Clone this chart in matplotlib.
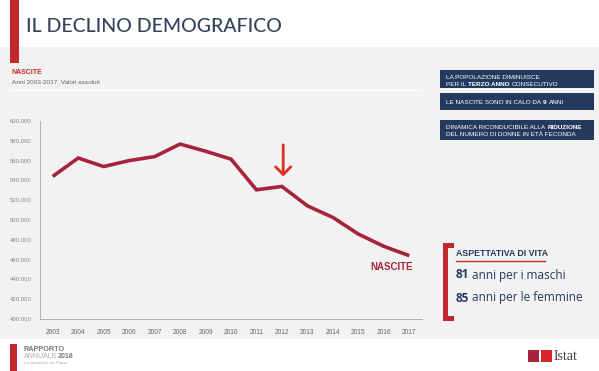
import matplotlib
matplotlib.use("Agg")
import matplotlib.pyplot as plt
from matplotlib.patches import Rectangle
from matplotlib.lines import Line2D

years = [2003, 2004, 2005, 2006, 2007, 2008, 2009, 2010, 2011, 2012, 2013, 2014, 2015, 2016, 2017]
births = [544000, 562600, 554000, 560000, 564000, 576700, 569500, 561500, 530500, 533900,
          514300, 502600, 485800, 473400, 464000]
yticks = list(range(400000, 600001, 20000))
ytick_labels = [f"{v:,}".replace(",", ".") for v in yticks]

W, H = 599, 371
fig = plt.figure(figsize=(W / 100, H / 100), dpi=100)
fig.patch.set_facecolor("white")


def fx(x):
    return x / W


def fy(y):
    return 1 - y / H


def rect(x0, y0, x1, y1, color, z=0):
    fig.patches.append(Rectangle((fx(x0), fy(y1)), fx(x1) - fx(x0), fy(y0) - fy(y1),
                                 transform=fig.transFigure, facecolor=color,
                                 edgecolor="none", zorder=z))


def txt(x, y, s, **kw):
    kw.setdefault("family", "Open Sans")
    return fig.text(fx(x), fy(y), s, **kw)


# backgrounds
rect(0, 47, W, 339, "#f2f2f2", -5)
rect(10, 0, 19, 63, "#c1272d", 1)
txt(26, 26, "IL DECLINO DEMOGRAFICO", fontsize=14, color="#34425a", va="center", family="Lato",
    weight="medium")
txt(12, 73, "NASCITE", fontsize=5, color="#c1272d", weight="bold", va="center", family="Liberation Sans")
txt(12, 82, "Anni 2003-2017. Valori assoluti", fontsize=4.6, color="#666666", va="center", family="Liberation Sans")
fig.lines.append(Line2D([fx(10), fx(420)], [fy(90), fy(90)], transform=fig.transFigure,
                        color="white", lw=0.8, zorder=-4))

# chart axes
ax = fig.add_axes([fx(40), fy(319), fx(422) - fx(40), fy(121) - fy(319)])
ax.set_zorder(5)
ax.set_facecolor("none")
ax.plot(years, births, color="#a6243b", lw=2.6, solid_capstyle="butt", solid_joinstyle="miter")
ax.set_xlim(2002.5, 2017.5)
ax.set_ylim(400000, 600000)
ax.set_xticks(years)
ax.set_xticklabels([str(y) for y in years], fontsize=4.8, color="#666666", family="Liberation Sans")
ax.set_yticks(yticks)
ax.set_yticklabels(ytick_labels, fontsize=4.3, color="#888888", family="Liberation Sans")
ax.tick_params(length=0, pad=7)
ax.tick_params(axis="y", pad=6)
for s in ["top", "right"]:
    ax.spines[s].set_visible(False)
for s in ["left", "bottom"]:
    ax.spines[s].set_color("#b0b0b0")
    ax.spines[s].set_linewidth(0.7)

ax.annotate("", xy=(2012.05, 544000), xytext=(2012.05, 576000),
            arrowprops=dict(arrowstyle="->,head_length=0.55,head_width=0.55", color="#e03020",
                            lw=2.0, shrinkA=0, shrinkB=0))
ax.text(2016.3, 464000 - 11500, "NASCITE", fontsize=7, color="#a6243b", weight="bold",
        ha="center", va="center", family="Liberation Sans")

# right boxes
navy = "#233a5e"
boxes = [(70, 88), (93, 110), (120, 140)]
for y0, y1 in boxes:
    rect(440, y0, 594, y1, navy, 2)


def runs(x, y, parts, size=4.6):
    prev = None
    for s, bold in parts:
        kw = dict(fontsize=size, color="white", weight="bold" if bold else "normal",
                  family="Liberation Sans", zorder=3)
        if prev is None:
            prev = fig.text(fx(x), fy(y), s, va="baseline", **kw)
        else:
            prev = ax.annotate(s, xy=(1, 0), xycoords=prev, xytext=(1.5, 0),
                               textcoords="offset points", va="bottom", ha="left",
                               annotation_clip=False, **kw)
    return prev


runs(446, 79, [("LA POPOLAZIONE DIMINUISCE", False)])
runs(446, 85.5, [("PER IL", False), ("TERZO ANNO", True), ("CONSECUTIVO", False)])
runs(446, 104, [("LE NASCITE SONO IN CALO DA", False), ("9", True), ("ANNI", False)])
runs(446, 129, [("DINAMICA RICONDUCIBILE ALLA", False), ("RIDUZIONE", True)])
runs(446, 136, [("DEL NUMERO DI DONNE IN ETÀ FECONDA", False)])

# aspettativa di vita bracket
red = "#c1272d"
rect(443, 243, 448, 321, red, 2)
rect(443, 243, 454, 248, red, 2)
rect(443, 316, 454, 321, red, 2)
txt(456, 254, "ASPETTATIVA DI VITA", fontsize=6.3, color=navy, weight="bold", va="center",
    family="Liberation Sans")
fig.lines.append(Line2D([fx(456), fx(545)], [fy(260.5), fy(260.5)], transform=fig.transFigure,
                        color=red, lw=1.0))


def life(y, num, rest):
    t = fig.text(fx(456), fy(y), num, fontsize=8.5, color=navy, weight="bold",
                 family="Open Sans", va="center")
    ax.annotate(rest, xy=(1, 0.5), xycoords=t, xytext=(2, 0), textcoords="offset points",
                va="center", ha="left", fontsize=8.5, color=navy, family="Open Sans",
                annotation_clip=False)


life(275, "81", "anni per i maschi")
life(298, "85", "anni per le femmine")

# footer
rect(10, 344, 17, 371, red, 1)
txt(24, 349.5, "RAPPORTO", fontsize=5.2, color="#777777", weight="bold", va="center",
    family="Liberation Sans")
t1 = txt(24, 356.5, "ANNUALE", fontsize=5, color="#aaaaaa", va="center", family="Liberation Sans")
ax.annotate("2018", xy=(1, 0.5), xycoords=t1, va="center", ha="left", fontsize=5,
            color="#777777", weight="bold", family="Liberation Sans", annotation_clip=False)
txt(24, 363, "La situazione del Paese", fontsize=3, color="#aaaaaa", va="center",
    family="Liberation Sans")
rect(528, 350, 539, 362, "#a6243b", 1)
rect(541, 350, 552, 362, "#d7262c", 1)
txt(554, 356.5, "Istat", fontsize=10, color="#444444", va="center", family="Liberation Serif")

fig.savefig("out.png", dpi=100, facecolor="white")
